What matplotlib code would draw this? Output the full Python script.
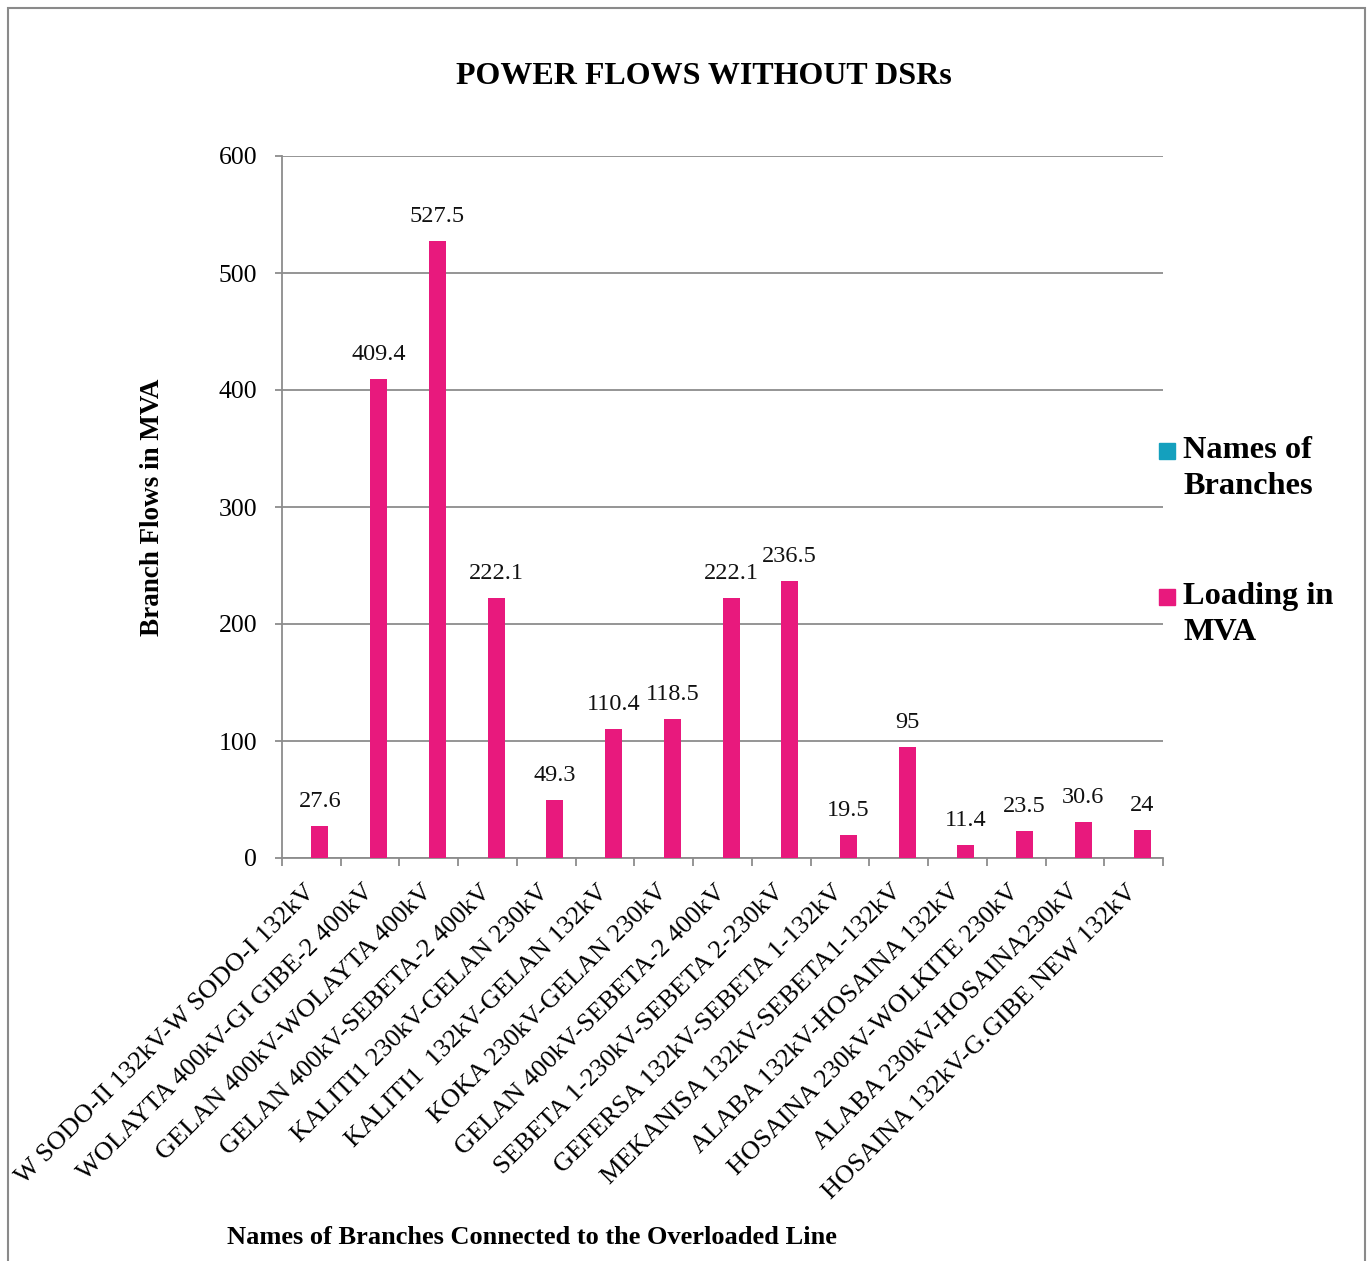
import matplotlib
matplotlib.use("Agg")
import matplotlib.pyplot as plt
from matplotlib.patches import Rectangle
import numpy as np

# Branch names and loading values (MVA)
branches = [
    "W SODO-II 132kV-W SODO-I 132kV",
    "WOLAYTA 400kV-GI GIBE-2 400kV",
    "GELAN 400kV-WOLAYTA 400kV",
    "GELAN 400kV-SEBETA-2 400kV",
    "KALITI1 230kV-GELAN 230kV",
    "KALITI1  132kV-GELAN 132kV",
    "KOKA 230kV-GELAN 230kV",
    "GELAN 400kV-SEBETA-2 400kV",
    "SEBETA 1-230kV-SEBETA 2-230kV",
    "GEFERSA 132kV-SEBETA 1-132kV",
    "MEKANISA 132kV-SEBETA1-132kV",
    "ALABA 132kV-HOSAINA 132kV",
    "HOSAINA 230kV-WOLKITE 230kV",
    "ALABA 230kV-HOSAINA230kV",
    "HOSAINA 132kV-G.GIBE NEW 132kV",
]
loading_mva = [27.6, 409.4, 527.5, 222.1, 49.3, 110.4, 118.5, 222.1,
               236.5, 19.5, 95, 11.4, 23.5, 30.6, 24]
value_labels = ["27.6", "409.4", "527.5", "222.1", "49.3", "110.4", "118.5",
                "222.1", "236.5", "19.5", "95", "11.4", "23.5", "30.6", "24"]
series_names = ["Names of\nBranches", "Loading in\nMVA"]
series_colors = ["#14A0BE", "#E8197D"]
y_ticks = [0, 100, 200, 300, 400, 500, 600]

W, H = 1371, 1261
fig = plt.figure(figsize=(W / 100, H / 100), dpi=100)
serif = "Liberation Serif"
grey = "#8C8C8C"

ax = fig.add_axes([282 / W, 1 - 858 / H, 881 / W, 702 / H])

x = np.arange(len(branches))
bw = 0.29
# first series has no values; the loading series sits in the right half of each cluster
ax.bar(x + bw / 2, loading_mva, width=bw, color=series_colors[1], zorder=3)

for xi, v, s in zip(x, loading_mva, value_labels):
    ax.annotate(s, (xi + bw / 2, v), xytext=(0, 10), textcoords="offset points",
                ha="center", va="bottom", fontsize=17.5, family=serif, color="#111111")

ax.set_xlim(-0.5, len(branches) - 0.5)
ax.set_ylim(0, 600)
ax.set_yticks(y_ticks)
ax.set_yticklabels([str(t) for t in y_ticks], family=serif, fontsize=18.5)
ax.yaxis.grid(True, color=grey, linewidth=1.3, zorder=0)
ax.set_axisbelow(True)

ax.set_xticks(x)
ax.set_xticklabels(branches, rotation=45, ha="right", va="center",
                   rotation_mode="anchor", family=serif, fontsize=19)
ax.set_xticks(np.arange(-0.5, len(branches)), minor=True)
ax.tick_params(axis="x", which="major", length=0, pad=22)
ax.tick_params(axis="x", which="minor", length=6, width=1.3, color=grey, direction="out")
ax.tick_params(axis="y", length=5, width=1.3, color=grey, pad=13)

for side in ["top", "right"]:
    ax.spines[side].set_visible(False)
for side in ["left", "bottom"]:
    ax.spines[side].set_color(grey)
    ax.spines[side].set_linewidth(1.3)

ax.set_ylabel("Branch Flows in MVA", family=serif, fontweight="bold", fontsize=19.5)
ax.yaxis.set_label_coords((165 - 282) / 881, 0.5)

fig.text(704 / W, 1 - 76 / H, "POWER FLOWS WITHOUT DSRs", ha="center", va="center",
         family=serif, fontweight="bold", fontsize=23)
fig.text(532 / W, 1 - 1238 / H, "Names of Branches Connected to the Overloaded Line",
         ha="center", va="center", family=serif, fontweight="bold", fontsize=19)

# legend drawn at the right side
for (ytop, name, col) in [(451, series_names[0], series_colors[0]),
                          (597, series_names[1], series_colors[1])]:
    fig.patches.append(Rectangle((1159 / W, 1 - (ytop + 8) / H), 16 / W, 16 / H,
                                 transform=fig.transFigure, color=col, figure=fig))
    fig.text(1183 / W, 1 - (ytop - 15) / H, name, ha="left", va="top",
             family=serif, fontweight="bold", fontsize=23.3, linespacing=1.34)

# outer frame
fig.patches.append(Rectangle((8 / W, -0.01), (1365 - 8) / W, 1 - 8 / H + 0.01,
                             transform=fig.transFigure, fill=False,
                             edgecolor="#8A8A8A", linewidth=1.5, figure=fig))

fig.savefig("out.png", dpi=100)
